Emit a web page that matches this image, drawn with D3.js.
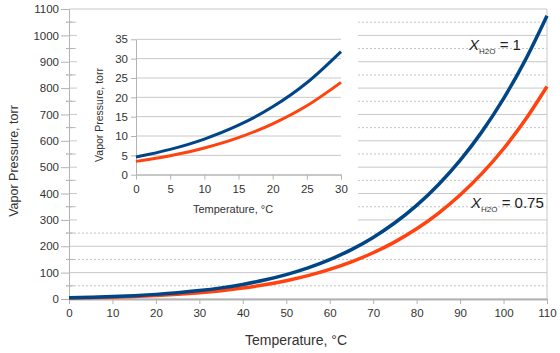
<!DOCTYPE html>
<html>
<head>
<meta charset="utf-8">
<script src="https://cdn.jsdelivr.net/npm/d3@7"></script>
<style>
  body { margin: 0; background: #fff; }
  svg { font-family: "Liberation Sans", Arial, sans-serif; }
  .tick text { fill: #333; }
</style>
</head>
<body>
<svg id="chart" width="560" height="353"></svg>
<script>
// water vapor pressure (torr) vs temperature, pure water and X_H2O = 0.75
const temps = [0, 5, 10, 15, 20, 25, 30, 35, 40, 45, 50, 55, 60, 65, 70, 75, 80, 85, 90, 95, 100, 105, 110];
const pureWater = [4.58, 6.54, 9.21, 12.79, 17.54, 23.76, 31.82, 42.2, 55.3, 71.9, 92.5, 118.0, 149.4, 187.5, 233.7, 289.1, 355.1, 433.6, 525.8, 633.9, 760.0, 906.1, 1074.6];
const mixture = [3.44, 4.91, 6.91, 9.59, 13.16, 17.82, 23.87, 31.65, 41.5, 53.9, 69.4, 88.5, 112.1, 140.6, 175.3, 216.8, 266.3, 325.2, 394.4, 475.4, 570.0, 679.6, 806.0];

const xTicks = d3.range(0, 111, 10);
const yTicks = d3.range(0, 1101, 100);
const yMinor = d3.range(50, 1100, 100);
const insetXTicks = d3.range(0, 31, 5);
const insetYTicks = d3.range(0, 36, 5);

const BLUE = '#004586', RED = '#ff420e';
const svg = d3.select('#chart');
const fmt = d3.format('d');

// ---- main plot ----
const x = d3.scaleLinear().domain([0, 110]).range([69, 547]);
const y = d3.scaleLinear().domain([0, 1100]).range([299, 9]);

const gGrid = svg.append('g');
gGrid.selectAll('.minor').data(yMinor).join('line')
  .attr('x1', x(0) - 3).attr('x2', x(110))
  .attr('y1', d => y(d)).attr('y2', d => y(d))
  .attr('stroke', '#c4c4c4').attr('stroke-dasharray', '2,2').attr('stroke-width', 1);
gGrid.selectAll('.major').data(yTicks).join('line')
  .attr('x1', x(0)).attr('x2', x(110))
  .attr('y1', d => y(d)).attr('y2', d => y(d))
  .attr('stroke', '#c8c8c8').attr('stroke-width', 1);
// right wall border
gGrid.append('line').attr('x1', x(110)).attr('x2', x(110)).attr('y1', y(1100)).attr('y2', y(0))
  .attr('stroke', '#c8c8c8');

const yAxis = svg.append('g').attr('transform', `translate(${x(0)},0)`)
  .call(d3.axisLeft(y).tickValues(yTicks).tickFormat(fmt).tickSize(8).tickPadding(2));
yAxis.selectAll('line, path').attr('stroke', '#b3b3b3');
yAxis.selectAll('text').attr('font-size', 11.5);

const xAxis = svg.append('g').attr('transform', `translate(0,${y(0)})`)
  .call(d3.axisBottom(x).tickValues(xTicks).tickFormat(fmt).tickSize(5).tickPadding(5).tickSizeOuter(0));
xAxis.selectAll('line').attr('stroke', '#b3b3b3');
xAxis.select('path').attr('stroke', '#b3b3b3').attr('stroke-width', 2);
xAxis.selectAll('text').attr('font-size', 11.5);

// minor tick marks crossing the y axis
svg.append('g').selectAll('line').data(yMinor).join('line')
  .attr('x1', x(0) - 3).attr('x2', x(0) + 5)
  .attr('y1', d => y(d)).attr('y2', d => y(d))
  .attr('stroke', '#b3b3b3');

const line = d3.line().x((d, i) => x(temps[i])).y(d => y(d)).curve(d3.curveMonotoneX);
svg.append('path').datum(mixture).attr('d', line)
  .attr('fill', 'none').attr('stroke', RED).attr('stroke-width', 3.5);
svg.append('path').datum(pureWater).attr('d', line)
  .attr('fill', 'none').attr('stroke', BLUE).attr('stroke-width', 3.5);

svg.append('text').attr('x', 296).attr('y', 345).attr('text-anchor', 'middle')
  .attr('font-size', 14).attr('fill', '#333').text('Temperature, °C');
svg.append('text').attr('transform', 'translate(18,161) rotate(-90)').attr('text-anchor', 'middle')
  .attr('font-size', 12.5).attr('fill', '#333').text('Vapor Pressure, torr');

function label(tx, ty, val) {
  const t = svg.append('text').attr('x', tx).attr('y', ty).attr('font-size', 15).attr('fill', '#222');
  t.append('tspan').attr('font-style', 'italic').attr('fill', '#222').text('X');
  t.append('tspan').attr('font-size', 8).attr('fill', '#333').attr('dy', 4).text('H2O');
  t.append('tspan').attr('fill', '#222').attr('dy', -4).text(' = ' + val);
}
label(469, 50, '1');
label(471, 208, '0.75');

// ---- inset ----
svg.append('rect').attr('x', 77).attr('y', 12).attr('width', 281).attr('height', 216).attr('fill', '#fff');

const ix = d3.scaleLinear().domain([0, 30]).range([136, 341]);
const iy = d3.scaleLinear().domain([0, 35]).range([174.7, 39.3]);

svg.append('g').selectAll('line').data(insetYTicks).join('line')
  .attr('x1', ix(0)).attr('x2', ix(30))
  .attr('y1', d => iy(d)).attr('y2', d => iy(d))
  .attr('stroke', '#c8c8c8');

const iyAxis = svg.append('g').attr('transform', `translate(${ix(0)},0)`)
  .call(d3.axisLeft(iy).tickValues(insetYTicks).tickSize(5).tickPadding(3).tickSizeOuter(0));
iyAxis.selectAll('line, path').attr('stroke', '#b3b3b3');
iyAxis.selectAll('text').attr('font-size', 11.5);

const ixAxis = svg.append('g').attr('transform', `translate(0,${iy(0)})`)
  .call(d3.axisBottom(ix).tickValues(insetXTicks).tickSize(5).tickPadding(5).tickSizeOuter(0));
ixAxis.selectAll('line, path').attr('stroke', '#b3b3b3');
ixAxis.selectAll('text').attr('font-size', 11.5);

const inTemps = temps.filter(t => t <= 30);
const iline = d3.line().x((d, i) => ix(inTemps[i])).y(d => iy(d)).curve(d3.curveMonotoneX);
svg.append('path').datum(mixture.slice(0, inTemps.length)).attr('d', iline)
  .attr('fill', 'none').attr('stroke', RED).attr('stroke-width', 3);
svg.append('path').datum(pureWater.slice(0, inTemps.length)).attr('d', iline)
  .attr('fill', 'none').attr('stroke', BLUE).attr('stroke-width', 3);

svg.append('text').attr('x', 233).attr('y', 213).attr('text-anchor', 'middle')
  .attr('font-size', 11).attr('fill', '#333').text('Temperature, °C');
svg.append('text').attr('transform', 'translate(103,115) rotate(-90)').attr('text-anchor', 'middle')
  .attr('font-size', 10.5).attr('fill', '#333').text('Vapor Pressure, torr');
</script>
</body>
</html>
